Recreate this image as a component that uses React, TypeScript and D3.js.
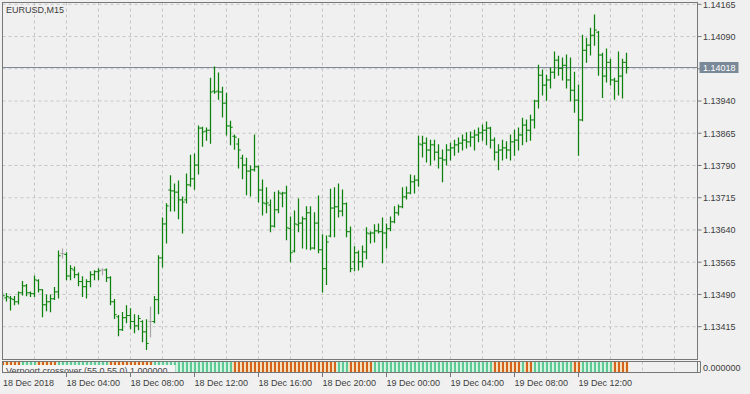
import React from 'react';
import * as d3 from 'd3';

const symbolTitle = 'EURUSD,M15';
const indicatorLabel = 'Verpoort crossover (55.0,55.0) 1.000000';

const openP = [
1.13482,1.13482,1.13482,1.13478,1.13473,1.13494,1.13510,1.13494,1.13492,1.13522,
1.13501,1.13466,1.13473,1.13480,1.13496,1.13585,1.13583,1.13533,1.13547,1.13536,
1.13520,1.13508,1.13520,1.13536,1.13543,1.13547,1.13547,1.13529,1.13473,1.13438,
1.13408,1.13436,1.13441,1.13427,1.13417,1.13427,1.13403,1.13427,1.13427,1.13478,
1.13575,1.13654,1.13733,1.13731,1.13728,1.13710,1.13710,1.13745,1.13759,1.13791,
1.13877,1.13870,1.13872,1.13963,1.13963,1.13961,1.13935,1.13882,1.13858,1.13840,
1.13807,1.13791,1.13777,1.13780,1.13787,1.13733,1.13701,1.13698,1.13649,1.13687,
1.13724,1.13726,1.13643,1.13591,1.13652,1.13656,1.13666,1.13680,1.13598,1.13656,
1.13594,1.13550,1.13626,1.13691,1.13694,1.13684,1.13701,1.13636,1.13566,1.13587,
1.13566,1.13589,1.13631,1.13633,1.13638,1.13636,1.13633,1.13643,1.13659,1.13680,
1.13694,1.13717,1.13726,1.13752,1.13756,1.13838,1.13842,1.13826,1.13838,1.13821,
1.13807,1.13803,1.13826,1.13831,1.13838,1.13842,1.13849,1.13845,1.13856,1.13861,
1.13866,1.13872,1.13877,1.13849,1.13821,1.13826,1.13831,1.13826,1.13845,1.13849,
1.13861,1.13884,1.13872,1.13896,1.13940,1.14000,1.13977,1.13989,1.14007,1.14035,
1.14016,1.14023,1.13989,1.13965,1.13942,1.13896,1.14058,1.14070,1.14093,1.14100,
1.14047,1.13998,1.14030,1.13989,1.13986,1.13998,1.14030,
];

const highP = [
1.13494,1.13492,1.13485,1.13485,1.13496,1.13520,1.13513,1.13496,1.13533,1.13524,
1.13501,1.13489,1.13489,1.13506,1.13591,1.13596,1.13587,1.13557,1.13554,1.13540,
1.13531,1.13524,1.13543,1.13545,1.13550,1.13550,1.13549,1.13531,1.13478,1.13441,
1.13448,1.13464,1.13457,1.13443,1.13441,1.13429,1.13431,1.13461,1.13485,1.13580,
1.13668,1.13701,1.13766,1.13747,1.13754,1.13717,1.13770,1.13814,1.13817,1.13882,
1.13879,1.13877,1.13993,1.14019,1.14005,1.13972,1.13958,1.13893,1.13861,1.13852,
1.13814,1.13807,1.13789,1.13861,1.13789,1.13756,1.13738,1.13710,1.13728,1.13731,
1.13728,1.13742,1.13670,1.13684,1.13712,1.13670,1.13694,1.13694,1.13680,1.13719,
1.13629,1.13626,1.13735,1.13738,1.13747,1.13733,1.13703,1.13647,1.13601,1.13591,
1.13603,1.13645,1.13636,1.13652,1.13654,1.13668,1.13654,1.13670,1.13694,1.13698,
1.13738,1.13740,1.13768,1.13766,1.13858,1.13858,1.13854,1.13849,1.13849,1.13838,
1.13826,1.13838,1.13842,1.13849,1.13854,1.13861,1.13866,1.13868,1.13872,1.13877,
1.13884,1.13891,1.13879,1.13854,1.13838,1.13849,1.13845,1.13861,1.13872,1.13877,
1.13900,1.13896,1.13907,1.13942,1.14023,1.14012,1.14000,1.14016,1.14054,1.14044,
1.14040,1.14047,1.14040,1.14007,1.13977,1.14093,1.14086,1.14109,1.14140,1.14102,
1.14051,1.14061,1.14037,1.13993,1.14054,1.14037,1.14051,
];

const lowP = [
1.13478,1.13475,1.13454,1.13466,1.13468,1.13489,1.13487,1.13485,1.13485,1.13496,
1.13438,1.13452,1.13450,1.13478,1.13482,1.13575,1.13524,1.13524,1.13529,1.13510,
1.13485,1.13482,1.13508,1.13524,1.13524,1.13536,1.13520,1.13466,1.13434,1.13394,
1.13406,1.13424,1.13410,1.13401,1.13408,1.13380,1.13362,1.13391,1.13424,1.13445,
1.13554,1.13610,1.13684,1.13684,1.13666,1.13633,1.13703,1.13742,1.13735,1.13770,
1.13835,1.13849,1.13842,1.13958,1.13944,1.13903,1.13861,1.13838,1.13828,1.13784,
1.13759,1.13722,1.13719,1.13777,1.13705,1.13675,1.13680,1.13636,1.13647,1.13680,
1.13694,1.13617,1.13566,1.13589,1.13636,1.13598,1.13596,1.13594,1.13596,1.13587,
1.13496,1.13513,1.13624,1.13624,1.13670,1.13673,1.13624,1.13543,1.13545,1.13547,
1.13554,1.13573,1.13610,1.13612,1.13633,1.13564,1.13598,1.13638,1.13657,1.13675,
1.13692,1.13712,1.13724,1.13726,1.13742,1.13810,1.13798,1.13791,1.13803,1.13784,
1.13752,1.13791,1.13803,1.13814,1.13821,1.13826,1.13831,1.13835,1.13826,1.13845,
1.13849,1.13838,1.13831,1.13803,1.13780,1.13803,1.13807,1.13803,1.13814,1.13826,
1.13838,1.13845,1.13849,1.13877,1.13924,1.13954,1.13942,1.13970,1.13993,1.14000,
1.13989,1.13970,1.13940,1.13914,1.13814,1.13894,1.14030,1.14047,1.14070,1.14000,
1.13948,1.13984,1.13977,1.13944,1.13954,1.13947,1.14005,
];

const closeP = [
1.13487,1.13485,1.13480,1.13473,1.13494,1.13510,1.13494,1.13492,1.13524,1.13501,
1.13466,1.13473,1.13480,1.13496,1.13580,1.13585,1.13533,1.13550,1.13536,1.13520,
1.13508,1.13520,1.13536,1.13543,1.13545,1.13547,1.13529,1.13473,1.13443,1.13408,
1.13436,1.13441,1.13427,1.13417,1.13434,1.13403,1.13376,1.13427,1.13478,1.13575,
1.13654,1.13696,1.13731,1.13728,1.13710,1.13705,1.13745,1.13759,1.13791,1.13877,
1.13868,1.13872,1.13961,1.13961,1.13961,1.13935,1.13882,1.13879,1.13856,1.13826,
1.13791,1.13777,1.13780,1.13787,1.13733,1.13703,1.13703,1.13649,1.13687,1.13726,
1.13726,1.13645,1.13587,1.13654,1.13656,1.13666,1.13680,1.13598,1.13656,1.13594,
1.13550,1.13612,1.13691,1.13694,1.13684,1.13701,1.13636,1.13550,1.13587,1.13566,
1.13589,1.13633,1.13633,1.13638,1.13636,1.13633,1.13643,1.13659,1.13680,1.13694,
1.13717,1.13726,1.13752,1.13756,1.13840,1.13842,1.13826,1.13838,1.13821,1.13807,
1.13803,1.13826,1.13831,1.13838,1.13842,1.13849,1.13845,1.13856,1.13861,1.13866,
1.13872,1.13877,1.13849,1.13821,1.13826,1.13831,1.13826,1.13845,1.13849,1.13861,
1.13884,1.13872,1.13896,1.13940,1.14000,1.13977,1.13989,1.14007,1.14035,1.14016,
1.14023,1.13989,1.13965,1.13942,1.13896,1.14058,1.14070,1.14093,1.14105,1.14047,
1.13998,1.14030,1.13989,1.13986,1.13998,1.14030,1.14018,
];

// 1 = bullish (green), -1 = bearish (orange)
const crossState = [
-1,-1,-1,-1,-1,1,1,1,1,-1,
-1,-1,-1,-1,1,1,1,1,1,1,
1,1,1,1,1,1,1,-1,-1,-1,
-1,-1,-1,-1,-1,-1,-1,-1,1,1,
1,1,1,1,1,1,1,1,1,1,
1,1,1,1,1,1,1,1,-1,-1,
-1,-1,-1,-1,-1,-1,-1,-1,-1,-1,
-1,-1,-1,-1,-1,-1,-1,-1,-1,-1,
-1,-1,-1,-1,1,1,1,-1,-1,-1,
-1,-1,-1,1,1,1,1,1,1,1,
1,1,1,1,1,1,1,1,1,1,
1,1,1,1,1,1,1,1,1,1,
1,1,1,-1,-1,-1,-1,-1,-1,-1,
1,-1,-1,1,1,1,1,1,1,1,
1,1,1,-1,-1,1,1,1,1,1,
1,1,1,-1,-1,-1,-1,
];

const priceTicks = [1.14165, 1.14090, 1.14015, 1.13940, 1.13865, 1.13790, 1.13715, 1.13640, 1.13565, 1.13490, 1.13415];
const timeLabels = ['18 Dec 2018', '18 Dec 04:00', '18 Dec 08:00', '18 Dec 12:00', '18 Dec 16:00', '18 Dec 20:00', '19 Dec 00:00', '19 Dec 04:00', '19 Dec 08:00', '19 Dec 12:00'];
const timeLabelBars = [0, 16, 32, 48, 64, 80, 96, 112, 128, 144];
const gridBars = [8, 16, 24, 32, 40, 48, 56, 64, 72, 80, 88, 96, 104, 112, 120, 128, 136, 144, 152, 160, 168];

const FONT = '"Liberation Sans", Arial, sans-serif';
const BG = '#F0F0F0';
const BAR = '#0B820B';
const DOJI = '#A8A8A8';
const FRAME = '#777777';
const GRID = '#C6C6C6';

export default function App() {
  const left = 2.5, right = 697.5, top = 2.5, mainBottom = 359.5;
  const indTop = 361.5, indBottom = 372.5;
  const n = closeP.length;
  const x = d3.scaleLinear().domain([0, 156]).range([2.5, 626.5]);
  const y = d3.scaleLinear().domain([1.13415, 1.14165]).range([326.7, 4.3]);
  const last = closeP[n - 1];
  const yLast = Math.round(y(last)) + 0.5;

  return (
    <svg width={750} height={394} style={{ position: 'absolute', left: 0, top: 0, background: BG }} fontFamily={FONT}>
      <defs>
        <clipPath id="mainClip"><rect x={left} y={top} width={right - left} height={mainBottom - top} /></clipPath>
        <clipPath id="indClip"><rect x={left + 0.5} y={indTop + 0.5} width={right - left - 1} height={indBottom - indTop - 1} /></clipPath>
      </defs>
      <rect x={0} y={0} width={750} height={394} fill={BG} />

      {/* grid */}
      <g stroke={GRID} strokeWidth={1} strokeDasharray="3,3">
        {priceTicks.map((p, k) => (
          <line key={'h' + k} x1={left} x2={right} y1={y(p)} y2={y(p)} />
        ))}
        {gridBars.filter(b => x(b) < right).map((b) => (
          <line key={'v' + b} x1={x(b)} x2={x(b)} y1={top} y2={mainBottom} />
        ))}
        {gridBars.filter(b => x(b) < right).map((b) => (
          <line key={'vi' + b} x1={x(b)} x2={x(b)} y1={indTop} y2={indBottom} />
        ))}
      </g>

      {/* price line */}
      <line x1={left} x2={right} y1={yLast} y2={yLast} stroke="#7D8996" strokeWidth={1} />

      {/* OHLC bars */}
      <g clipPath="url(#mainClip)">
        {closeP.map((c, i) => {
          const o = openP[i];
          const col = o === c ? DOJI : BAR;
          const cx = x(i);
          return (
            <g key={i} stroke={col}>
              <line x1={cx} x2={cx} y1={y(highP[i]) - 0.5} y2={y(lowP[i]) + 0.5} strokeWidth={1.25} />
              <line x1={cx - 2.2} x2={cx} y1={y(o)} y2={y(o)} strokeWidth={1} />
              <line x1={cx} x2={cx + 2.2} y1={y(c)} y2={y(c)} strokeWidth={1} />
            </g>
          );
        })}
      </g>

      {/* main frame */}
      <rect x={left} y={top} width={right - left} height={mainBottom - top} fill="none" stroke={FRAME} strokeWidth={1} />
      <text x={6} y={12.5} fontSize={9} fill="#3C3C3C">{symbolTitle}</text>

      {/* price axis */}
      {priceTicks.map((p, k) => (
        <g key={'pt' + k}>
          <line x1={right} x2={right + 4} y1={y(p)} y2={y(p)} stroke={FRAME} />
          <text x={703} y={y(p) + 3.3} fontSize={9} fill="#3C3C3C">{p.toFixed(5)}</text>
        </g>
      ))}
      <rect x={699.5} y={yLast - 5.5} width={39} height={11} fill="#7A8998" />
      <text x={703} y={yLast + 3.3} fontSize={9} fill="#FFFFFF">{last.toFixed(5)}</text>

      {/* indicator panel */}
      <g clipPath="url(#indClip)">
        {crossState.map((s, i) => {
          const cx = x(i);
          const pale = s > 0 ? '#CFF3DF' : '#F6DDB4';
          const strong = s > 0 ? '#5FC995' : '#D2641E';
          return (
            <g key={'h' + i}>
              <rect x={cx - 2} y={indTop} width={4} height={indBottom - indTop} fill={pale} />
              <rect x={cx - 0.5} y={indTop} width={2} height={indBottom - indTop} fill={strong} />
            </g>
          );
        })}
        <rect x={3} y={365} width={172.5} height={9} fill="#F4F4F4" />
        <text x={6} y={374} fontSize={9} fill="#454545">{indicatorLabel}</text>
      </g>
      <rect x={left} y={indTop} width={right - left} height={indBottom - indTop} fill="none" stroke={FRAME} strokeWidth={1} />
      <path d={`M${right},${indTop} H${right + 3} V${indBottom} H${right}`} fill="none" stroke={FRAME} />
      <text x={703} y={370.5} fontSize={9} fill="#3C3C3C">{(0).toFixed(6)}</text>

      {/* time axis */}
      {timeLabels.map((t, k) => {
        const bx = x(timeLabelBars[k]);
        return (
          <g key={'t' + k}>
            {k > 0 && <line x1={bx} x2={bx} y1={indBottom} y2={indBottom + 4.5} stroke={FRAME} />}
            <text x={k === 0 ? 3 : bx} y={386} fontSize={9} fill="#3C3C3C">{t}</text>
          </g>
        );
      })}
    </svg>
  );
}
